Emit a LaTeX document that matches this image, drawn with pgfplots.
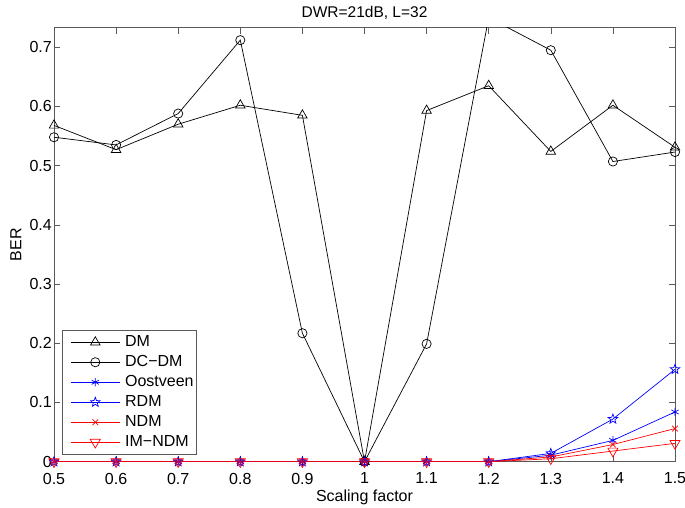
\documentclass[border=0pt]{standalone}
\usepackage{fontspec}
\setmainfont{Liberation Sans}
\usepackage{pgfplots}
\pgfplotsset{compat=1.18}

% hollow five-pointed star, like MATLAB's 'p' marker
\pgfdeclareplotmark{pentagram}{%
  \pgfpathmoveto{\pgfpointpolar{90}{\pgfplotmarksize}}%
  \pgfpathlineto{\pgfpointpolar{126}{0.42\pgfplotmarksize}}%
  \pgfpathlineto{\pgfpointpolar{162}{\pgfplotmarksize}}%
  \pgfpathlineto{\pgfpointpolar{198}{0.42\pgfplotmarksize}}%
  \pgfpathlineto{\pgfpointpolar{234}{\pgfplotmarksize}}%
  \pgfpathlineto{\pgfpointpolar{270}{0.42\pgfplotmarksize}}%
  \pgfpathlineto{\pgfpointpolar{306}{\pgfplotmarksize}}%
  \pgfpathlineto{\pgfpointpolar{342}{0.42\pgfplotmarksize}}%
  \pgfpathlineto{\pgfpointpolar{18}{\pgfplotmarksize}}%
  \pgfpathlineto{\pgfpointpolar{54}{0.42\pgfplotmarksize}}%
  \pgfpathclose\pgfusepathqstroke}

\definecolor{axgray}{rgb}{0.35,0.35,0.35}

\begin{document}
\fontsize{15}{18}\selectfont
\begin{tikzpicture}
\begin{axis}[
at={(0pt,0pt)}, anchor=south west,
width=621pt,
height=434pt,
scale only axis,
xmin=0.5, xmax=1.5,
ymin=0, ymax=0.733,
xtick={0.5,0.6,...,1.5},
ytick={0,0.1,...,0.7},
/pgf/number format/assume math mode=true,
tick label style={font=\fontsize{16}{18}\selectfont},
label style={font=\fontsize{16}{18}\selectfont},
title style={font=\fontsize{15.5}{18}\selectfont, yshift=-3pt},
xticklabel style={yshift=-6pt},
yticklabel style={xshift=3pt},
tick align=inside,
major tick length=6pt,
axis line style={axgray},
tick style={axgray, line width=0.6pt},
every axis plot/.append style={line width=0.7pt},
title={DWR=21dB, L=32},
xlabel={Scaling factor},
ylabel={BER},
xlabel style={yshift=5pt},
ylabel style={yshift=-2pt},
legend cell align=left,
legend style={at={(0,0)}, anchor=south west, xshift=8pt, yshift=7pt,
  draw=axgray, line width=0.9pt, inner xsep=2pt, inner ysep=2pt, row sep=0pt,
  nodes={minimum height=20pt, inner sep=1pt},
  font=\fontsize{16}{18}\selectfont},
legend image code/.code={%
  \path (0pt,0pt) (59pt,0pt);
  \draw[mark repeat=2, mark phase=2] plot coordinates {(6pt,0pt) (30.5pt,0pt) (55pt,0pt)};},
]
\addplot[black, mark=triangle, mark size=5.5pt] coordinates {
(0.5,0.568) (0.6,0.527) (0.7,0.570) (0.8,0.602) (0.9,0.585) (1.0,0)
(1.1,0.593) (1.2,0.635) (1.3,0.524) (1.4,0.602) (1.5,0.531)};
\addlegendentry{DM}

\addplot[black, mark=o, mark size=4.6pt] coordinates {
(0.5,0.548) (0.6,0.535) (0.7,0.588) (0.8,0.712) (0.9,0.217) (1.0,0)
(1.1,0.199) (1.2,0.75) (1.3,0.695) (1.4,0.507) (1.5,0.523)};
\addlegendentry{DC−DM}

\addplot[blue, mark=asterisk, mark size=4.2pt] coordinates {
(0.5,0) (0.6,0) (0.7,0) (0.8,0) (0.9,0) (1.0,0)
(1.1,0) (1.2,0) (1.3,0.011) (1.4,0.036) (1.5,0.084)};
\addlegendentry{Oostveen}

\addplot[blue, mark=pentagram, mark size=5pt] coordinates {
(0.5,0) (0.6,0) (0.7,0) (0.8,0) (0.9,0) (1.0,0)
(1.1,0) (1.2,0) (1.3,0.014) (1.4,0.072) (1.5,0.156)};
\addlegendentry{RDM}

\addplot[red, mark=x, mark size=4pt] coordinates {
(0.5,0) (0.6,0) (0.7,0) (0.8,0) (0.9,0) (1.0,0)
(1.1,0) (1.2,0) (1.3,0.008) (1.4,0.029) (1.5,0.056)};
\addlegendentry{NDM}

\addplot[red, mark=triangle, mark size=5.8pt, every mark/.append style={rotate=180}] coordinates {
(0.5,0) (0.6,0) (0.7,0) (0.8,0) (0.9,0) (1.0,0)
(1.1,0) (1.2,0) (1.3,0.005) (1.4,0.018) (1.5,0.031)};
\addlegendentry{IM−NDM}
\end{axis}
\pgfresetboundingbox
\path[use as bounding box] (-54pt,-46.3pt) rectangle (631pt,461.7pt);
\end{tikzpicture}
\end{document}
